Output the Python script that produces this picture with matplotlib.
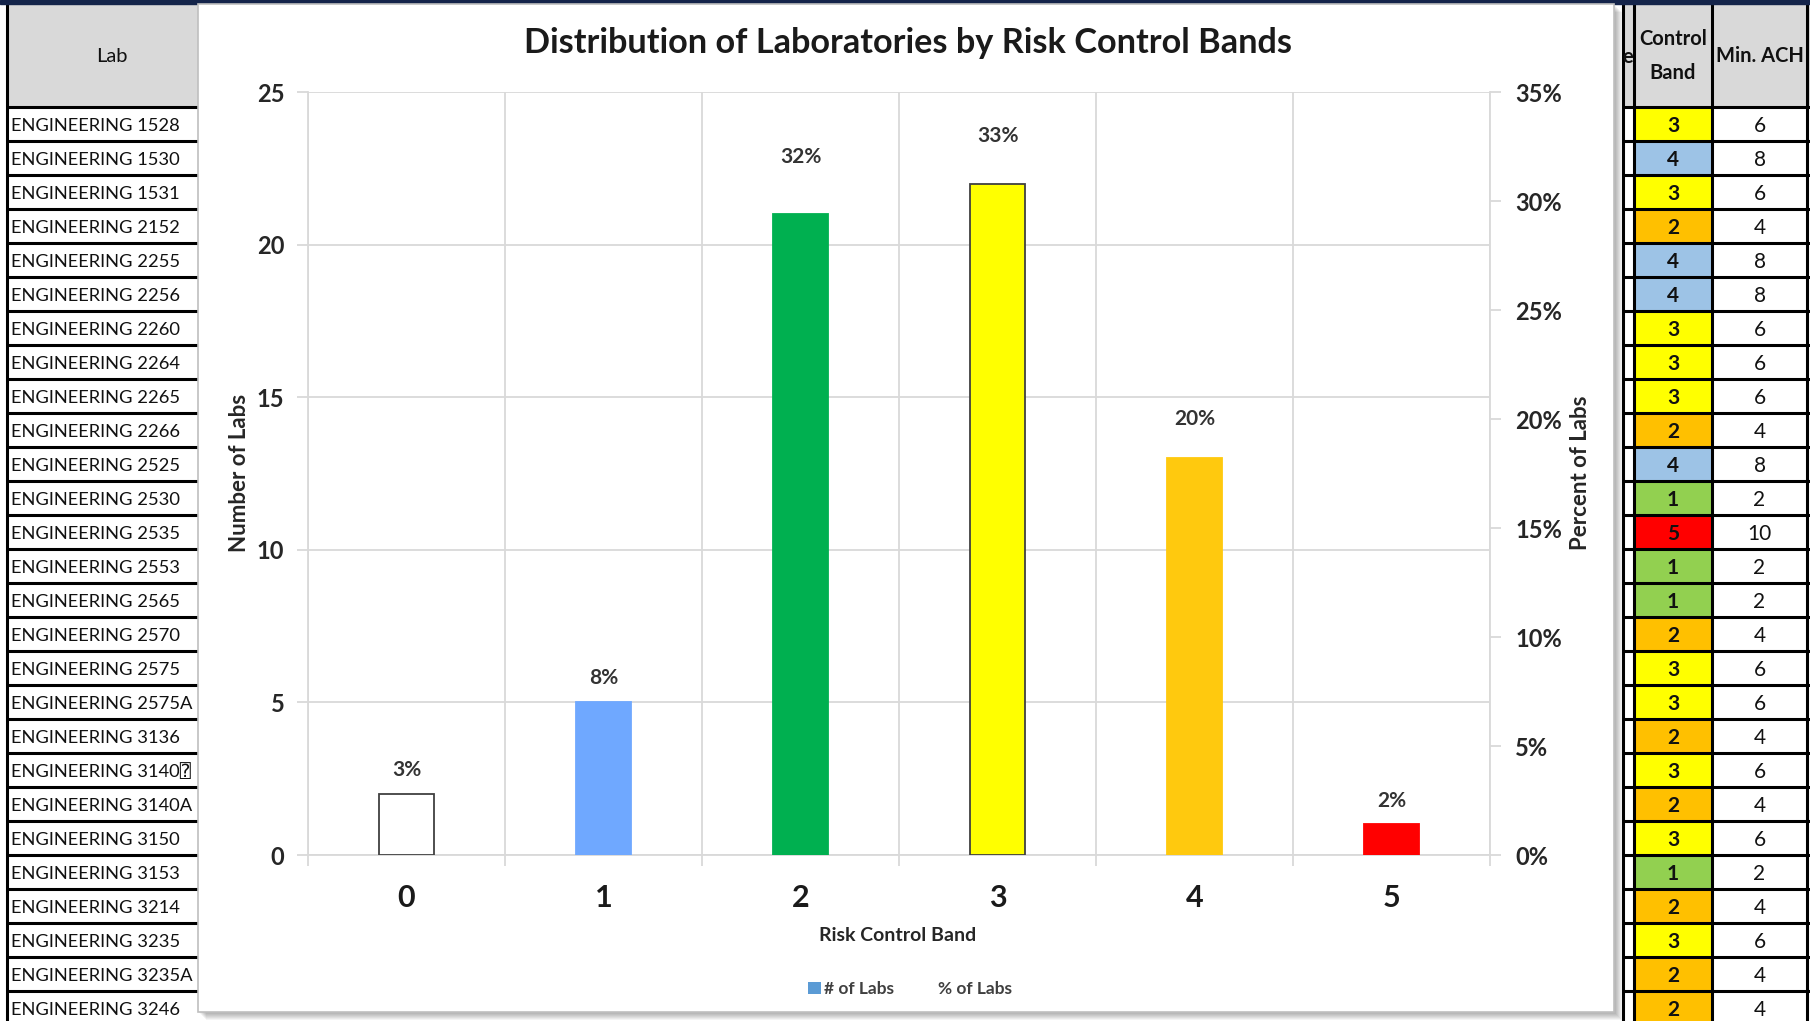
import matplotlib
matplotlib.use("Agg")
import matplotlib.pyplot as plt
import numpy as np
from matplotlib.patches import Rectangle, Patch
from matplotlib.lines import Line2D

plt.rcParams["font.family"] = ["Lato", "DejaVu Sans", "DejaVu Sans Mono"]

# ---- chart data ----
bands = [0, 1, 2, 3, 4, 5]
lab_counts = [2, 5, 21, 22, 13, 1]
lab_pct = [3, 8, 32, 33, 20, 2]
bar_colors = ["#FFFFFF", "#6FA8FF", "#00B050", "#FFFF00", "#FFC90E", "#FF0000"]
bar_edges = ["#404040", "#6FA8FF", "#00B050", "#404040", "#FFC90E", "#FF0000"]

# ---- worksheet data ----
labs = ["ENGINEERING 1528", "ENGINEERING 1530", "ENGINEERING 1531", "ENGINEERING 2152",
        "ENGINEERING 2255", "ENGINEERING 2256", "ENGINEERING 2260", "ENGINEERING 2264",
        "ENGINEERING 2265", "ENGINEERING 2266", "ENGINEERING 2525", "ENGINEERING 2530",
        "ENGINEERING 2535", "ENGINEERING 2553", "ENGINEERING 2565", "ENGINEERING 2570",
        "ENGINEERING 2575", "ENGINEERING 2575A", "ENGINEERING 3136", "ENGINEERING 3140\u2370",
        "ENGINEERING 3140A", "ENGINEERING 3150", "ENGINEERING 3153", "ENGINEERING 3214",
        "ENGINEERING 3235", "ENGINEERING 3235A", "ENGINEERING 3246"]
lab_bands = [3, 4, 3, 2, 4, 4, 3, 3, 3, 2, 4, 1, 5, 1, 1, 2, 3, 3, 2, 3, 2, 3, 1, 2, 3, 2, 2]
min_ach = [6, 8, 6, 4, 8, 8, 6, 6, 6, 4, 8, 2, 10, 2, 2, 4, 6, 6, 4, 6, 4, 6, 2, 4, 6, 4, 4]
band_fill = {1: "#92D050", 2: "#FFC000", 3: "#FFFF00", 4: "#9DC3E6", 5: "#FF0000"}

W, H = 1810, 1021
fig = plt.figure(figsize=(W / 100, H / 100), dpi=100)
fig.patch.set_facecolor("white")

# sheet layer in pixel coordinates
bg = fig.add_axes([0, 0, 1, 1])
bg.set_xlim(0, W)
bg.set_ylim(H, 0)
bg.axis("off")
bg.set_zorder(0)

head_top, head_bot, row_h = 4, 107, 34
txt = "#111111"

bg.add_patch(Rectangle((0, 0), W, 4, color="#14244A", zorder=5))

# left sheet column
bg.add_patch(Rectangle((7, head_top), 192, head_bot - head_top, facecolor="#D9D9D9", edgecolor="none"))
bg.text(112, 57, "Lab", ha="center", va="center", fontsize=14.5, color=txt)
for i, name in enumerate(labs):
    y0 = head_bot + i * row_h
    bg.plot([7, 199], [y0, y0], color="black", lw=2.2, solid_capstyle="butt")
    bg.text(11, y0 + row_h / 2 + 2, name, ha="left", va="center", fontsize=13.2, color=txt)
bg.plot([7, 7], [head_top, H], color="black", lw=2.2)

# right sheet columns
c0, c1, c2, c3 = 1623, 1634, 1712, 1807
bg.add_patch(Rectangle((c0, head_top), W - c0, head_bot - head_top, facecolor="#D9D9D9", edgecolor="none"))
bg.text(1628, 57, "e", ha="center", va="center", fontsize=14.5, fontweight="bold", color=txt)
bg.text((c1 + c2) / 2, 56, "Control\nBand", ha="center", va="center", fontsize=14.5,
        fontweight="bold", color=txt, linespacing=1.85)
bg.text((c2 + c3) / 2, 56, "Min. ACH", ha="center", va="center", fontsize=14.5,
        fontweight="bold", color=txt)
for i, (b, a) in enumerate(zip(lab_bands, min_ach)):
    y0 = head_bot + i * row_h
    bg.add_patch(Rectangle((c1, y0), c2 - c1, row_h, facecolor=band_fill[b], edgecolor="none"))
    bg.plot([c0, W], [y0, y0], color="black", lw=2.2, solid_capstyle="butt")
    bg.text((c1 + c2) / 2, y0 + row_h / 2 + 2, str(b), ha="center", va="center",
            fontsize=15, fontweight="bold", color=txt)
    bg.text((c2 + c3) / 2, y0 + row_h / 2 + 2, str(a), ha="center", va="center",
            fontsize=15, color=txt)
for xv in (c0, c1, c2, c3):
    bg.plot([xv, xv], [head_top, H], color="black", lw=2.2)

# chart frame with soft drop shadow
fx0, fy0, fx1, fy1 = 198, 4, 1614, 1012
for k in range(1, 9):
    bg.add_patch(Rectangle((fx0 + k, fy0 + k), fx1 - fx0, fy1 - fy0,
                           facecolor="#000000", alpha=0.045, edgecolor="none", zorder=6))
bg.add_patch(Rectangle((fx0, fy0), fx1 - fx0, fy1 - fy0, facecolor="white",
                       edgecolor="#BFBFBF", lw=1.2, zorder=7))

bg.text(908, 43, "Distribution of Laboratories by Risk Control Bands", ha="center",
        va="center", fontsize=24.7, fontweight="bold", color="#1a1a1a", zorder=8)
bg.text(898, 935, "Risk Control Band", ha="center", va="center", fontsize=14,
        fontweight="bold", color="#262626", zorder=8)
bg.text(239, 473, "Number of Labs", ha="center", va="center", rotation=90,
        fontsize=16, fontweight="bold", color="#262626", zorder=8)
bg.text(1580, 473, "Percent of Labs", ha="center", va="center", rotation=90,
        fontsize=16, fontweight="bold", color="#262626", zorder=8)

# ---- chart ----
grid_c = "#D9D9D9"
ax = fig.add_axes([308 / W, (H - 855) / H, (1490 - 308) / W, (855 - 92) / H])
ax.set_zorder(2)
ax.patch.set_visible(False)
ax.bar(bands, lab_counts, width=0.28, color=bar_colors, edgecolor=bar_edges,
       linewidth=1.3, zorder=3)
ax.set_xlim(-0.5, 5.5)
ax.set_ylim(0, 25)
ax.set_yticks(range(0, 26, 5))
ax.set_xticks(bands)
ax.set_xticklabels([str(b) for b in bands], fontsize=22, fontweight="bold", color="#1a1a1a")
ax.set_xticks(np.arange(-0.5, 6, 1), minor=True)
ax.tick_params(axis="x", which="major", length=0, pad=21)
ax.tick_params(axis="x", which="minor", length=8, width=1.3, color=grid_c, direction="out")
ax.tick_params(axis="y", length=8, width=1.3, color=grid_c, direction="out", pad=9,
               labelsize=17, labelcolor="#262626")
for t in ax.get_yticklabels():
    t.set_fontweight("bold")
ax.yaxis.grid(True, color=grid_c, lw=1.3)
ax.xaxis.grid(True, which="minor", color=grid_c, lw=1.3)
ax.set_axisbelow(True)
for s in ("top", "right"):
    ax.spines[s].set_visible(False)
for s in ("left", "bottom"):
    ax.spines[s].set_color(grid_c)
    ax.spines[s].set_linewidth(1.3)

ax2 = ax.twinx()
ax2.patch.set_visible(False)
ax2.set_ylim(0, 35)
ax2.set_yticks(range(0, 36, 5))
ax2.set_yticklabels([f"{v}%" for v in range(0, 36, 5)])
ax2.tick_params(axis="y", length=8, width=1.3, color=grid_c, direction="out", pad=10,
                labelsize=17, labelcolor="#262626")
for t in ax2.get_yticklabels():
    t.set_fontweight("bold")
for s in ("top", "left", "bottom"):
    ax2.spines[s].set_visible(False)
ax2.spines["right"].set_color(grid_c)
ax2.spines["right"].set_linewidth(1.3)

# percent series: no line drawn, labels only
ax2.plot(bands, lab_pct, linestyle="none")
scale = 35 / 25
for b, c, p in zip(bands, lab_counts, lab_pct):
    y_lab = max(p, c * scale + 1.1)
    ax2.text(b, y_lab, f"{p}%", ha="center", va="center", fontsize=15,
             fontweight="bold", color="#333333")

handles = [Patch(facecolor="#5B9BD5", edgecolor="none", label="# of Labs"),
           Line2D([], [], linestyle="none", label="% of Labs")]
leg = fig.legend(handles=handles, loc="center", bbox_to_anchor=(910 / W, 1 - 989 / H),
                 ncol=2, frameon=False, fontsize=12.5, handlelength=0.7, handleheight=0.7,
                 handletextpad=0.2, columnspacing=1.6)
for t in leg.get_texts():
    t.set_color("#404040")
    t.set_fontweight("bold")
leg.set_zorder(10)

fig.savefig("out.png", dpi=100)
